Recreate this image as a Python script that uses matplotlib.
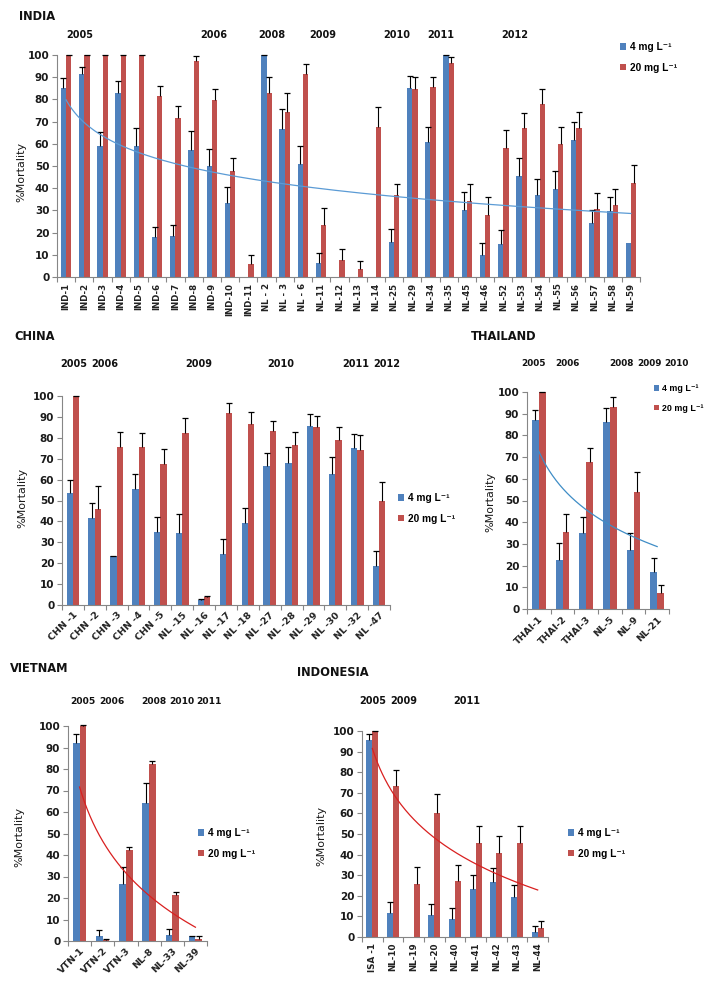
import numpy as np
import matplotlib
matplotlib.use('Agg')
import matplotlib.pyplot as plt

W, H = 709, 991
BLUE = '#4F81BD'
RED = '#C0504D'
LEG = ['4 mg L\u207b\u00b9', '20 mg L\u207b\u00b9']
nan = np.nan

# ---------------- DATA ----------------
india_labels = ['IND-1', 'IND-2', 'IND-3', 'IND-4', 'IND-5', 'IND-6', 'IND-7', 'IND-8',
                'IND-9', 'IND-10', 'IND-11', 'NL - 2', 'NL - 3', 'NL - 6', 'NL-11', 'NL-12',
                'NL-13', 'NL-14', 'NL-25', 'NL-29', 'NL-34', 'NL-35', 'NL-45', 'NL-46',
                'NL-52', 'NL-53', 'NL-54', 'NL-55', 'NL-56', 'NL-57', 'NL-58', 'NL-59']
india_4 = [85, 91.3, 59.1, 83, 59, 18, 18.3, 57.4, 50, 33.4, 0, 100, 66.5, 50.7, 6.5, 0,
           0, 0, 15.8, 85.3, 60.9, 100, 30, 9.8, 15, 45.6, 36.8, 39.7, 61.8, 24.4, 29.8, 15.5]
india_4_err = [4.8, 3.5, 6, 5.3, 8, 4.7, 5.2, 8.2, 7.6, 7, nan, 0, 9, 8.4, 4.5, nan,
               nan, nan, 5.6, 5.3, 6.8, 0, 8.3, 5.7, 6, 8.1, 7.2, 8, 8, 6, 6.3, nan]
india_20 = [100, 100, 100, 100, 100, 81.5, 71.4, 97.3, 79.7, 47.8, 5.7, 83, 74.4, 91.4, 23.2, 7.5,
            3.8, 67.7, 36.8, 84.8, 85.6, 96.2, 34.1, 27.8, 58, 66.9, 78, 59.8, 67, 30.8, 32.5, 42.3]
india_20_err = [0, 0, 0, 0, 0, 4.4, 5.6, 2.2, 5, 6, 4.2, 7.2, 8.5, 4.7, 8, 5,
                3.4, 8.9, 5.3, 5.2, 4.5, 2.7, 8, 8.2, 8.4, 7.1, 6.6, 7.8, 7.4, 7.2, 7, 8.1]
india_years = ['2005', '2006', '2008', '2009', '2010', '2011', '2012']

china_labels = ['CHN -1', 'CHN -2', 'CHN -3', 'CHN -4', 'CHN -5', 'NL -15', 'NL -16', 'NL -17',
                'NL -18', 'NL -27', 'NL -28', 'NL -29', 'NL -30', 'NL -32', 'NL -47']
china_4 = [53.4, 41.5, 23.4, 55.5, 35.1, 34.6, 2.4, 24.4, 39.4, 66.5, 67.8, 85.6, 62.7, 75, 18.7]
china_4_err = [6.4, 7.2, 0, 7, 7.2, 8.8, 0.3, 7, 6.9, 6.1, 7.7, 5.6, 8, 6.8, 7.3]
china_20 = [100, 45.9, 75.8, 75.4, 67.5, 82.5, 4, 92, 86.4, 83.3, 76.6, 85, 79, 74.2, 49.9]
china_20_err = [0, 11, 7.2, 6.7, 7, 6.9, 0.3, 4.8, 6, 4.9, 6, 5.4, 6.3, 7, 8.8]
china_years = ['2005', '2006', '2009', '2010', '2011', '2012']

thai_labels = ['THAI-1', 'THAI-2', 'THAI-3', 'NL-5', 'NL-9', 'NL-21']
thai_4 = [87.1, 22.4, 35, 86.3, 27, 17]
thai_4_err = [4.6, 8, 7.3, 6.2, 8, 6.3]
thai_20 = [100, 35.7, 67.6, 93.3, 53.7, 7.4]
thai_20_err = [0, 8.2, 6.8, 4.6, 9.6, 3.6]
thai_years = ['2005', '2006', '2008', '2009', '2010']

vtn_labels = ['VTN-1', 'VTN-2', 'VTN-3', 'NL-8', 'NL-33', 'NL-39']
vtn_4 = [91.9, 2.2, 26.7, 64.3, 3, 2.2]
vtn_4_err = [4.4, 2.8, 7.8, 9, 2.7, 0]
vtn_20 = [100, 0.6, 42.2, 82.3, 21.6, 0.9]
vtn_20_err = [0.3, 0.3, 1.3, 1.4, 1.2, 1.3]
vtn_years = ['2005', '2006', '2008', '2010', '2011']

ina_labels = ['ISA -1', 'NL-10', 'NL-19', 'NL-20', 'NL-40', 'NL-41', 'NL-42', 'NL-43', 'NL-44']
ina_4 = [95.8, 11.8, 0, 10.5, 8.7, 23.5, 26.7, 19.4, 2.4]
ina_4_err = [2.9, 5.2, nan, 5.7, 5.4, 6.4, 7, 5.7, 2.8]
ina_20 = [100, 73.3, 25.9, 60.4, 27, 45.8, 40.9, 45.8, 4.4]
ina_20_err = [0, 7.9, 8.1, 9.2, 7.8, 7.9, 8, 7.9, 3.5]
ina_years = ['2005', '2009', '2011']

yticks = list(range(0, 101, 10))

# ---------------- DRAWING ----------------
fig = plt.figure(figsize=(W / 100, H / 100), dpi=100)
fig.patch.set_facecolor('white')


def fx(x):
    return x / W


def fy(y):
    return 1 - y / H


def rect(l, t, r, b):
    return [fx(l), fy(b), (r - l) / W, (b - t) / H]


def panel(box, labels, b, be, r, re_, rot, tfs, trend_vals, trend_color):
    ax = fig.add_axes(rect(*box))
    n = len(labels)
    x = np.arange(n)
    w = 0.29
    bb = ax.bar(x - w / 2, b, w, color=BLUE, label=LEG[0], zorder=2)
    rb = ax.bar(x + w / 2, r, w, color=RED, label=LEG[1], zorder=2)
    for xs, v, e in ((x - w / 2, b, be), (x + w / 2, r, re_)):
        v = np.asarray(v, float)
        e = np.asarray(e, float)
        m = ~np.isnan(e)
        ax.vlines(xs[m], v[m], v[m] + e[m], color='black', lw=0.8, zorder=3, clip_on=False)
        ax.plot(xs[m], v[m] + e[m], ls='none', marker='_', ms=4, mew=0.9,
                color='black', zorder=3, clip_on=False)
    if trend_vals is not None:
        tv = np.asarray(trend_vals, float)
        lx = np.log(np.arange(1, n + 1))
        k, c = np.polyfit(lx, tv, 1)
        xx = np.linspace(0, n - 1, 200)
        ax.plot(xx, c + k * np.log(xx + 1), color=trend_color, lw=0.9, zorder=4)
    ax.set_xlim(-0.5, n - 0.5)
    ax.set_ylim(0, 100)
    ax.set_yticks(yticks)
    ax.set_yticklabels([str(t) for t in yticks], fontsize=7.5, fontweight='bold', color='#1a1a1a')
    ax.set_xticks(np.arange(n + 1) - 0.5)
    ax.set_xticklabels([])
    ax.set_xticks(x, minor=True)
    if rot == 90:
        ax.set_xticklabels(labels, minor=True, rotation=90, ha='center', va='top',
                           fontsize=tfs, fontweight='bold', color='#222222')
    else:
        ax.set_xticklabels(labels, minor=True, rotation=45, ha='right', va='top',
                           rotation_mode='anchor', fontsize=tfs, fontweight='bold', color='#222222')
    ax.tick_params(axis='x', which='major', length=3.5, color='#868686', width=0.8)
    ax.tick_params(axis='x', which='minor', length=0, pad=4)
    ax.tick_params(axis='y', length=3.5, color='#868686', width=0.8, pad=2)
    for s in ('top', 'right'):
        ax.spines[s].set_visible(False)
    for s in ('left', 'bottom'):
        ax.spines[s].set_color('#868686')
        ax.spines[s].set_linewidth(0.8)
    ax.set_facecolor('none')
    return ax, bb, rb


def legend(ax, bb, rb, lx, ly, size=7.3):
    ax.legend(handles=[bb, rb], loc='upper left', bbox_to_anchor=(fx(lx), fy(ly)),
              bbox_transform=fig.transFigure, frameon=False,
              prop=dict(family=['Liberation Sans', 'DejaVu Sans'], weight='bold', size=size),
              handlelength=0.6, handleheight=0.6,
              handletextpad=0.35, labelspacing=1.05 * 7.3 / size, borderpad=0, borderaxespad=0)


def title(text, x, y):
    fig.text(fx(x), fy(y), text, ha='left', va='center', fontsize=8.3, fontweight='bold',
             color='#111111')


def years(lst, xs, y, size=7):
    for t, xp in zip(lst, xs):
        fig.text(fx(xp), fy(y), t, ha='center', va='center', fontsize=size, fontweight='bold',
                 color='#111111')


def ylab(x, y):
    fig.text(fx(x), fy(y), '%Mortality', rotation=90, ha='center', va='center', fontsize=8,
             color='#1a1a1a')


# INDIA
ax, bb, rb = panel((57, 55, 640, 277), india_labels, india_4, india_4_err, india_20,
                   india_20_err, 90, 6.2, india_4, '#5B9BD5')
legend(ax, bb, rb, 620, 42)
title('INDIA', 19, 16)
years(india_years, [80, 214, 272, 323, 397, 441, 515], 35)
ylab(21, 172)

# CHINA
ax, bb, rb = panel((62, 396, 390, 605), china_labels, china_4, china_4_err, china_20,
                   china_20_err, 45, 6.8, None, None)
legend(ax, bb, rb, 398, 493)
title('CHINA', 14, 337)
years(china_years, [74, 104.5, 199, 281, 356, 386.5], 364)
ylab(22, 498)

# THAILAND
ax, bb, rb = panel((527, 392, 669, 609), thai_labels, thai_4, thai_4_err, thai_20,
                   thai_20_err, 45, 6.8, thai_4, '#3F8DC6')
legend(ax, bb, rb, 654, 384, size=6.4)
title('THAILAND', 471, 337)
years(thai_years, [534, 567, 621, 649, 676], 364, size=6.4)
ylab(490, 502)

# VIETNAM
ax, bb, rb = panel((68, 726, 207, 941), vtn_labels, vtn_4, vtn_4_err, vtn_20,
                   vtn_20_err, 45, 6.8, vtn_4, '#D92020')
legend(ax, bb, rb, 198, 828)
title('VIETNAM', 10, 669)
years(vtn_years, [83, 112, 154, 181.7, 208.7], 702, size=6.6)
ylab(19, 837)

# INDONESIA
ax, bb, rb = panel((362, 731, 548, 937), ina_labels, ina_4, ina_4_err, ina_20,
                   ina_20_err, 90, 6.3, ina_20, '#D92020')
legend(ax, bb, rb, 568, 828)
title('INDONESIA', 297, 673)
years(ina_years, [372.5, 404, 466.7], 701)
ylab(321, 836)

fig.savefig('out.png', dpi=100, facecolor='white')
